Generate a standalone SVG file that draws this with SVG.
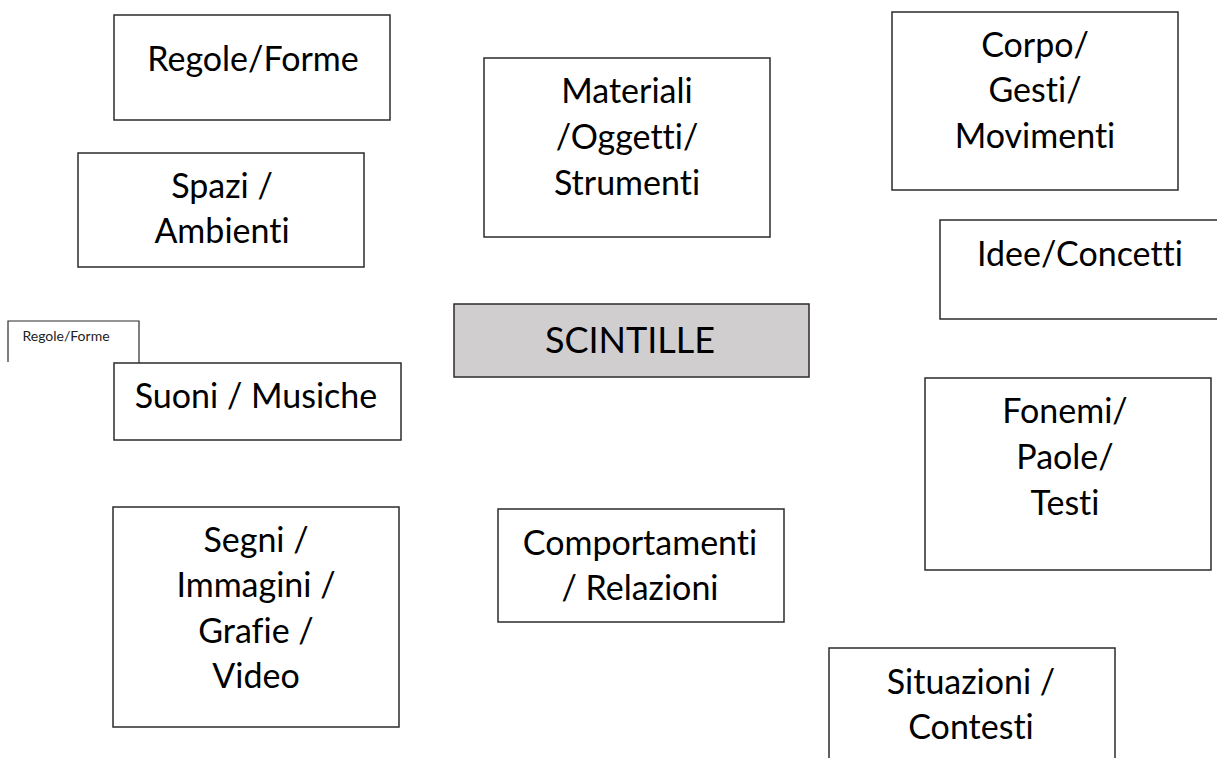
<svg xmlns="http://www.w3.org/2000/svg" width="1217" height="758" viewBox="0 0 1217 758">
<style>
.box{fill:#ffffff;stroke:#2b2b2b;stroke-width:1.5}
.core{fill:#d0cece;stroke:#2b2b2b;stroke-width:1.5}
.t{font-family:Lato,"Open Sans","Liberation Sans",sans-serif;font-size:34px;fill:#000;text-anchor:middle;font-variant-ligatures:none;font-feature-settings:"liga" 0,"clig" 0}
.big{font-size:36px}
.small{font-size:14px;fill:#222}
</style>
<rect width="1217" height="758" fill="#ffffff"/>
<g id="connectors"></g>
<g id="regole">
<rect class="box" x="114" y="15" width="276" height="105"/>
<text class="t" x="253" y="71">Regole/Forme</text>
</g>
<g id="spazi">
<rect class="box" x="78" y="153" width="286" height="114"/>
<text class="t" x="222" y="198">Spazi /</text>
<text class="t" x="222" y="243">Ambienti</text>
</g>
<g id="materiali">
<rect class="box" x="484" y="58" width="286" height="179"/>
<text class="t" x="627" y="103">Materiali</text>
<text class="t" x="627" y="149">/Oggetti/</text>
<text class="t" x="627" y="195">Strumenti</text>
</g>
<g id="corpo">
<rect class="box" x="892" y="12" width="286" height="178"/>
<text class="t" x="1035" y="57">Corpo/</text>
<text class="t" x="1035" y="102">Gesti/</text>
<text class="t" x="1035" y="148">Movimenti</text>
</g>
<g id="idee">
<rect class="box" x="940" y="220" width="300" height="99"/>
<text class="t" x="1080" y="266">Idee/Concetti</text>
</g>
<g id="scintille">
<rect class="core" x="454" y="304" width="355" height="73"/>
<text class="t big" x="630" y="353">SCINTILLE</text>
</g>
<g id="regole-small">
<path d="M8,362 V321 H139 V363" fill="none" stroke="#2b2b2b" stroke-width="1.2"/>
<text class="t small" x="66" y="341">Regole/Forme</text>
</g>
<g id="suoni">
<rect class="box" x="114" y="363" width="287" height="77"/>
<text class="t" x="256" y="408">Suoni / Musiche</text>
</g>
<g id="fonemi">
<rect class="box" x="925" y="378" width="286" height="192"/>
<text class="t" x="1065" y="423">Fonemi/</text>
<text class="t" x="1065" y="469">Paole/</text>
<text class="t" x="1065" y="515">Testi</text>
</g>
<g id="segni">
<rect class="box" x="113" y="507" width="286" height="220"/>
<text class="t" x="256" y="552">Segni /</text>
<text class="t" x="256" y="597">Immagini /</text>
<text class="t" x="256" y="643">Grafie /</text>
<text class="t" x="256" y="688">Video</text>
</g>
<g id="comportamenti">
<rect class="box" x="498" y="509" width="286" height="113"/>
<text class="t" x="640" y="555">Comportamenti</text>
<text class="t" x="640" y="600">/ Relazioni</text>
</g>
<g id="situazioni">
<rect class="box" x="829" y="648" width="286" height="130"/>
<text class="t" x="971" y="694">Situazioni /</text>
<text class="t" x="971" y="739">Contesti</text>
</g>
</svg>
